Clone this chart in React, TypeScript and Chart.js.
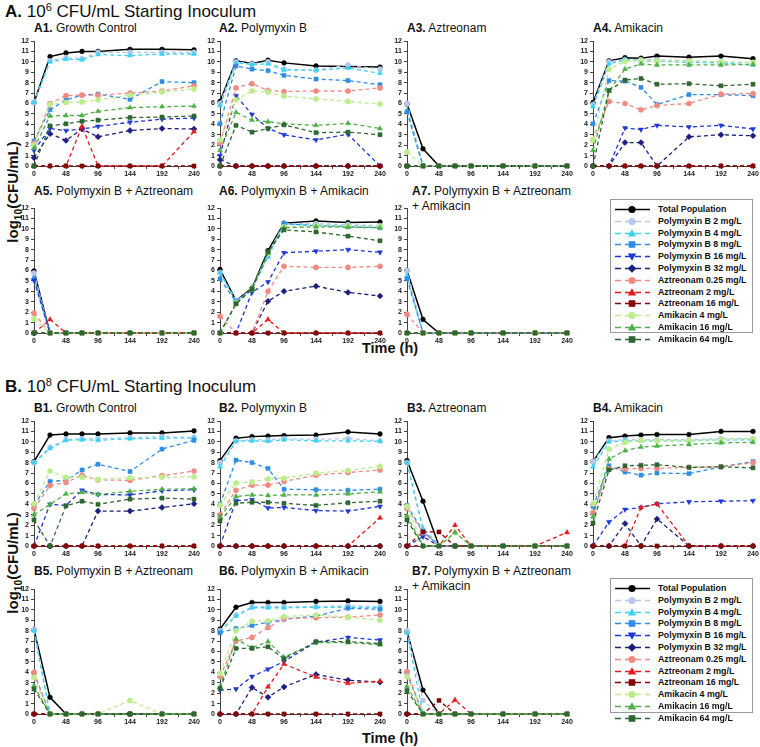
import React, { useEffect, useRef } from 'react';
import { Chart, registerables } from 'chart.js';

Chart.register(...registerables);

// ---------- DATA ----------
const timePoints = [0, 24, 48, 72, 96, 144, 192, 240];
const xTickLabels = ['0', '48', '96', '144', '192', '240'];
const yTickValues = [0, 1, 2, 3, 4, 5, 6, 7, 8, 9, 10, 11, 12];

const seriesNames = [
  'Total Population',
  'Polymyxin B 2 mg/L',
  'Polymyxin B 4 mg/L',
  'Polymyxin B 8 mg/L',
  'Polymyxin B 16 mg/L',
  'Polymyxin B 32 mg/L',
  'Aztreonam 0.25 mg/L',
  'Aztreonam 2 mg/L',
  'Aztreonam 16 mg/L',
  'Amikacin 4 mg/L',
  'Amikacin 16 mg/L',
  'Amikacin 64 mg/L',
];

const Z = [0, 0, 0, 0, 0, 0, 0, 0];

// order of rows in each panel: Total, PB2, PB4, PB8, PB16, PB32, AZ0.25, AZ2, AZ16, AM4, AM16, AM64
const A1 = [
  [6.1, 10.5, 10.85, 11.0, 11.0, 11.2, 11.2, 11.15],
  [6.1, 10.1, 10.4, 10.3, 10.9, 10.9, 10.9, 10.9],
  [6.1, 10.0, 10.25, 10.2, 10.7, 10.6, 10.75, 10.75],
  [2.4, 5.4, 6.35, 6.8, 6.9, 6.4, 8.1, 8.0],
  [1.5, 3.6, 3.4, 3.55, 3.8, 4.2, 4.5, 4.6],
  [0.8, 3.1, 2.45, 3.55, 2.8, 3.4, 3.6, 3.55],
  [2.2, 6.0, 6.75, 6.8, 6.8, 7.0, 7.2, 7.7],
  [0, 0, 0, 3.8, 0, 0, 0, 3.3],
  Z,
  [2.0, 5.9, 6.1, 6.15, 6.35, 6.8, 7.1, 7.4],
  [1.7, 4.8, 4.85, 4.85, 5.25, 5.6, 5.7, 5.75],
  [0, 3.85, 4.05, 4.3, 4.4, 4.65, 4.7, 4.8],
];
const A2 = [
  [6.2, 10.1, 9.85, 10.15, 9.9, 9.6, 9.55, 9.5],
  [6.0, 10.0, 9.8, 10.0, 9.3, 9.2, 9.7, 9.3],
  [5.8, 9.9, 9.75, 9.8, 9.2, 9.2, 9.4, 8.9],
  [4.05, 9.6, 9.3, 9.15, 8.7, 8.35, 8.2, 7.8],
  [1.0, 6.75, 4.95, 3.6, 3.0, 2.5, 3.05, 0],
  [0.6, 0, 0, 0, 0, 0, 0, 0],
  [2.2, 7.5, 7.9, 7.25, 7.15, 7.2, 7.2, 7.5],
  Z,
  Z,
  [2.5, 6.35, 7.2, 7.1, 6.7, 6.45, 6.2, 5.95],
  [1.5, 5.15, 4.4, 4.25, 4.05, 3.9, 4.1, 3.6],
  [0, 3.9, 3.25, 3.6, 3.95, 3.2, 3.25, 3.0],
];
const A3 = [
  [5.95, 1.65, 0, 0, 0, 0, 0, 0],
  [6.0, 0, 0, 0, 0, 0, 0, 0],
  [5.3, 0, 0, 0, 0, 0, 0, 0],
  [5.2, 0, 0, 0, 0, 0, 0, 0],
  Z,
  Z,
  Z,
  Z,
  Z,
  [1.35, 0, 0, 0, 0, 0, 0, 0],
  Z,
  Z,
];
const A4 = [
  [6.1, 10.1, 10.4, 10.35, 10.55, 10.45, 10.55, 10.3],
  [5.9, 10.0, 10.2, 10.2, 10.2, 10.1, 10.0, 9.9],
  [5.7, 9.8, 10.2, 10.1, 10.05, 9.95, 9.9, 9.7],
  [4.05, 8.2, 8.15, 7.55, 5.9, 6.85, 6.85, 6.75],
  [0, 0, 3.65, 3.5, 3.9, 3.75, 3.9, 3.55],
  [0, 0, 2.25, 2.25, 0, 2.8, 3.0, 2.9],
  [2.5, 6.2, 6.0, 5.4, 5.8, 6.0, 6.9, 6.95],
  Z,
  Z,
  [2.5, 9.3, 10.05, 10.15, 10.1, 10.05, 10.0, 9.95],
  [1.5, 7.2, 9.3, 9.8, 9.7, 9.7, 9.7, 9.75],
  [0, 7.25, 8.25, 8.4, 7.85, 7.9, 7.7, 7.85],
];
const A5 = [
  [5.95, 0, 0, 0, 0, 0, 0, 0],
  [5.75, 0, 0, 0, 0, 0, 0, 0],
  [5.3, 0, 0, 0, 0, 0, 0, 0],
  [5.2, 0, 0, 0, 0, 0, 0, 0],
  [5.05, 0, 0, 0, 0, 0, 0, 0],
  Z,
  [1.9, 0, 0, 0, 0, 0, 0, 0],
  [0, 1.3, 0, 0, 0, 0, 0, 0],
  Z,
  [1.35, 0, 0, 0, 0, 0, 0, 0],
  Z,
  Z,
];
const A6 = [
  [6.1, 3.1, 4.3, 7.9, 10.55, 10.75, 10.6, 10.65],
  [5.8, 3.1, 4.2, 7.6, 10.5, 10.5, 10.4, 10.3],
  [5.8, 3.0, 4.2, 7.3, 10.45, 10.35, 10.3, 10.2],
  [5.2, 3.0, 4.2, 7.5, 10.5, 10.3, 10.2, 10.1],
  [0, 0, 3.9, 4.9, 7.7, 7.85, 8.0, 7.75],
  [0, 0, 0, 3.05, 4.0, 4.5, 3.9, 3.55],
  [1.6, 0, 0, 4.0, 6.4, 6.3, 6.3, 6.4],
  [0, 0, 0, 1.3, 0, 0, 0, 0],
  Z,
  [0, 2.9, 4.2, 7.6, 10.2, 10.3, 10.25, 10.2],
  [0, 2.8, 4.3, 7.7, 10.1, 10.2, 10.15, 10.1],
  [0, 2.8, 4.2, 7.8, 9.9, 9.7, 9.3, 8.85],
];
const A7 = [
  [6.0, 1.3, 0, 0, 0, 0, 0, 0],
  [6.0, 0, 0, 0, 0, 0, 0, 0],
  [5.5, 0, 0, 0, 0, 0, 0, 0],
  [5.2, 0, 0, 0, 0, 0, 0, 0],
  Z,
  Z,
  [1.8, 0, 0, 0, 0, 0, 0, 0],
  Z,
  Z,
  Z,
  Z,
  Z,
];
const B1 = [
  [8.1, 10.65, 10.75, 10.75, 10.75, 10.85, 10.85, 11.05],
  [8.0, 9.5, 10.2, 10.3, 10.3, 10.4, 10.5, 10.4],
  [8.0, 9.35, 10.15, 10.2, 10.15, 10.3, 10.35, 10.35],
  [3.9, 6.2, 6.3, 7.3, 7.85, 7.15, 9.3, 10.15],
  [0, 4.0, 3.9, 5.35, 4.95, 4.9, 5.3, 5.4],
  [0, 0, 0, 0, 3.35, 3.35, 3.7, 4.05],
  [3.6, 5.8, 6.1, 6.8, 6.35, 6.3, 6.75, 7.2],
  Z,
  Z,
  [4.05, 7.2, 6.6, 6.6, 6.4, 6.55, 6.6, 6.65],
  [3.0, 4.0, 5.0, 5.15, 4.95, 5.25, 5.45, 5.5],
  [2.5, 0, 3.85, 4.3, 4.0, 4.5, 4.6, 4.5],
];
const B2 = [
  [8.2, 10.35, 10.5, 10.55, 10.6, 10.65, 10.95, 10.75],
  [8.0, 10.1, 10.2, 10.2, 10.3, 10.25, 10.3, 10.1],
  [7.6, 10.05, 10.1, 10.05, 10.2, 10.1, 10.1, 10.05],
  [4.0, 8.25, 8.0, 7.45, 5.45, 5.4, 5.35, 5.45],
  [0, 4.35, 4.45, 3.65, 3.7, 3.4, 3.35, 3.8],
  Z,
  [3.0, 5.35, 5.85, 5.85, 6.2, 6.8, 7.05, 7.3],
  [0, 0, 0, 0, 0, 0, 0, 2.7],
  Z,
  [3.9, 6.05, 6.15, 6.45, 6.5, 7.0, 7.25, 7.65],
  [2.8, 4.75, 4.9, 4.85, 4.9, 4.9, 5.0, 5.2],
  [2.4, 4.1, 4.2, 4.2, 4.1, 3.9, 4.15, 4.3],
];
const B3 = [
  [8.2, 4.3, 0, 0, 0, 0, 0, 0],
  [8.0, 1.5, 0, 0, 0, 0, 0, 0],
  [8.0, 1.7, 0, 0, 0, 0, 0, 0],
  [3.9, 1.4, 0, 0, 0, 0, 0, 0],
  [0, 0.9, 0, 0, 0, 0, 0, 0],
  Z,
  [3.6, 1.3, 0, 0, 0, 0, 0, 0],
  [0, 0, 0, 2.0, 0, 0, 0, 1.3],
  [0, 1.35, 1.35, 0, 0, 0, 0, 0],
  [3.8, 0, 0, 1.3, 0, 0, 0, 0],
  [2.9, 0, 0, 1.3, 0, 0, 0, 0],
  [2.5, 0, 0, 0, 0, 0, 0, 0],
];
const B4 = [
  [8.1, 10.4, 10.55, 10.65, 10.7, 10.7, 11.0, 11.0],
  [8.1, 10.1, 10.2, 10.2, 10.2, 10.2, 10.3, 10.3],
  [7.6, 10.0, 10.1, 10.1, 10.1, 10.1, 10.2, 10.2],
  [3.8, 7.7, 7.1, 6.8, 7.0, 6.95, 7.6, 8.1],
  [0, 2.3, 3.5, 3.7, 4.05, 4.25, 4.3, 4.35],
  [0, 0, 2.15, 0, 2.6, 0, 0, 0],
  [3.2, 7.4, 7.4, 7.45, 7.45, 7.55, 7.6, 8.0],
  [0, 0, 0, 3.7, 4.05, 0, 0, 0],
  Z,
  [4.05, 9.3, 9.95, 10.15, 10.1, 10.15, 10.2, 10.3],
  [2.8, 8.35, 9.15, 9.5, 9.6, 9.75, 9.9, 9.95],
  [2.2, 7.3, 7.7, 7.75, 7.8, 7.55, 7.6, 7.5],
];
const B5 = [
  [8.1, 1.6, 0, 0, 0, 0, 0, 0],
  [8.1, 0, 0, 0, 0, 0, 0, 0],
  [8.0, 0, 0, 0, 0, 0, 0, 0],
  [3.9, 0, 0, 0, 0, 0, 0, 0],
  Z,
  Z,
  [4.0, 0, 0, 0, 0, 0, 0, 0],
  Z,
  Z,
  [3.5, 0, 0, 0, 0, 1.3, 0, 0],
  [2.7, 0, 0, 0, 0, 0, 0, 0],
  [2.4, 0, 0, 0, 0, 0, 0, 0],
];
const B6 = [
  [8.15, 10.25, 10.7, 10.7, 10.7, 10.8, 10.85, 10.8],
  [8.0, 9.5, 10.3, 10.3, 10.3, 10.3, 10.4, 10.3],
  [7.9, 9.4, 10.2, 10.2, 10.2, 10.25, 10.25, 10.2],
  [7.8, 8.2, 8.5, 8.8, 9.1, 9.4, 10.15, 10.05],
  [2.3, 2.4, 3.6, 4.3, 5.05, 6.9, 7.35, 7.1],
  [0, 0, 2.55, 1.6, 2.6, 3.8, 3.25, 3.05],
  [3.6, 7.0, 7.35, 8.3, 9.15, 9.25, 9.3, 9.5],
  [0, 0, 0, 2.6, 4.8, 3.55, 2.95, 3.15],
  Z,
  [3.9, 8.0, 8.9, 8.95, 9.35, 9.5, 9.3, 9.0],
  [2.6, 7.2, 6.35, 6.95, 5.45, 6.85, 6.85, 6.65],
  [2.45, 6.3, 6.3, 6.45, 5.3, 6.95, 6.95, 6.75],
];
const B7 = [
  [7.9, 2.3, 0, 0, 0, 0, 0, 0],
  [8.0, 1.3, 0, 0, 0, 0, 0, 0],
  [7.8, 0, 0, 0, 0, 0, 0, 0],
  [3.9, 0, 0, 0, 0, 0, 0, 0],
  Z,
  Z,
  [4.1, 0, 0, 0, 0, 0, 0, 0],
  [0, 0, 0, 1.35, 0, 0, 0, 0],
  [0, 0, 1.3, 0, 0, 0, 0, 0],
  [3.6, 0, 0, 0, 0, 0, 0, 0],
  [2.65, 0, 0, 0, 0, 0, 0, 0],
  [2.25, 0, 0, 0, 0, 0, 0, 0],
];

const panelIds = ['A1', 'A2', 'A3', 'A4', 'A5', 'A6', 'A7', 'B1', 'B2', 'B3', 'B4', 'B5', 'B6', 'B7'];
const panelTitles = [
  'Growth Control',
  'Polymyxin B',
  'Aztreonam',
  'Amikacin',
  'Polymyxin B + Aztreonam',
  'Polymyxin B + Amikacin',
  'Polymyxin B + Aztreonam|+ Amikacin',
  'Growth Control',
  'Polymyxin B',
  'Aztreonam',
  'Amikacin',
  'Polymyxin B + Aztreonam',
  'Polymyxin B + Amikacin',
  'Polymyxin B + Aztreonam|+ Amikacin',
];
const panelData = [A1, A2, A3, A4, A5, A6, A7, B1, B2, B3, B4, B5, B6, B7];

// ---------- STYLES / LAYOUT ----------
const FONT = '"Liberation Sans", Arial, Helvetica, sans-serif';
const colors = [
  '#000000', '#b7c8ea', '#3cd2f2', '#2f8de4', '#1f36d6', '#1c1f7c',
  '#f28a84', '#e8191c', '#800a0a', '#bdec8c', '#4eae47', '#2f6632',
];
const pointStyles = ['circle', 'circle', 'triangle', 'rect', 'triangle', 'rectRot', 'circle', 'triangle', 'rect', 'circle', 'triangle', 'rect'];
const pointRotations = [0, 0, 0, 0, 180, 0, 0, 0, 0, 0, 0, 0];
const pointRadii = [2.4, 2.6, 2.9, 2.9, 2.9, 3.0, 2.6, 2.9, 2.9, 2.6, 2.9, 2.9];

const colLeft = [34, 220, 407, 593];
const rowTop = [41, 208, 421, 589];
const PLOT_W = 160;
const PLOT_H = 125;
const Y_AXIS_W = 22;
const X_AXIS_H = 16;
const PAD_T = 7;
const PAD_R = 12;
const panelPos = [
  [0, 0], [1, 0], [2, 0], [3, 0], [0, 1], [1, 1], [2, 1],
  [0, 2], [1, 2], [2, 2], [3, 2], [0, 3], [1, 3], [2, 3],
];

function Panel({ data, left, top }: { data: number[][]; left: number; top: number }) {
  const ref = useRef<HTMLCanvasElement>(null);
  const w = Y_AXIS_W + PLOT_W + PAD_R;
  const h = PAD_T + PLOT_H + X_AXIS_H;
  useEffect(() => {
    const canvas = ref.current;
    if (!canvas) return;
    const tickFont = { family: FONT, size: 7, weight: 'bold' as const };
    const chart = new Chart(canvas, {
      type: 'line',
      data: {
        datasets: data.map((vals, i) => ({
          label: seriesNames[i],
          data: vals.map((v, j) => ({ x: timePoints[j], y: v })),
          borderColor: colors[i],
          backgroundColor: colors[i],
          pointBackgroundColor: colors[i],
          pointBorderColor: colors[i],
          pointBorderWidth: 0.5,
          borderWidth: i === 0 ? 1.5 : 1.3,
          borderDash: i === 0 ? [] : [4, 3],
          pointStyle: pointStyles[i] as any,
          pointRotation: pointRotations[i],
          pointRadius: pointRadii[i],
          tension: 0,
          clip: false as any,
          order: 12 - i,
        })),
      },
      options: {
        animation: false,
        responsive: false,
        maintainAspectRatio: false,
        events: [],
        layout: { padding: { left: 0, right: PAD_R, top: PAD_T, bottom: 0 } },
        plugins: { legend: { display: false }, tooltip: { enabled: false } },
        scales: {
          x: {
            type: 'linear',
            min: 0,
            max: 240,
            afterFit: (s: any) => { s.height = X_AXIS_H; },
            ticks: {
              stepSize: 24,
              autoSkip: false,
              maxRotation: 0,
              padding: 1,
              color: '#222',
              font: tickFont,
              callback: (v: any) => (xTickLabels.includes(String(v)) ? String(v) : ''),
            },
            grid: { drawOnChartArea: false, drawTicks: true, tickLength: 3, color: '#444', lineWidth: 1 },
            border: { display: true, color: '#444', width: 1 },
          },
          y: {
            type: 'linear',
            min: yTickValues[0],
            max: yTickValues[yTickValues.length - 1],
            afterFit: (s: any) => { s.width = Y_AXIS_W; },
            ticks: {
              stepSize: 1,
              autoSkip: false,
              padding: 2,
              color: '#222',
              font: tickFont,
            },
            grid: { drawOnChartArea: false, drawTicks: true, tickLength: 3, color: '#444', lineWidth: 1 },
            border: { display: true, color: '#444', width: 1 },
          },
        },
      },
    });
    return () => chart.destroy();
  }, [data]);
  return (
    <canvas
      ref={ref}
      width={w}
      height={h}
      style={{ position: 'absolute', left: left - Y_AXIS_W, top: top - PAD_T, width: w, height: h }}
    />
  );
}

function Marker({ style, color, cx, cy }: { style: number; color: string; cx: number; cy: number }) {
  const ps = pointStyles[style];
  const rot = pointRotations[style];
  if (ps === 'circle') return <circle cx={cx} cy={cy} r={3.6} fill={color} />;
  if (ps === 'rect') return <rect x={cx - 3.3} y={cy - 3.3} width={6.6} height={6.6} fill={color} />;
  if (ps === 'rectRot')
    return <polygon points={`${cx},${cy - 4.3} ${cx + 4.3},${cy} ${cx},${cy + 4.3} ${cx - 4.3},${cy}`} fill={color} />;
  const s = rot === 180 ? -1 : 1;
  return (
    <polygon
      points={`${cx},${cy - 4.2 * s} ${cx + 4.2},${cy + 3 * s} ${cx - 4.2},${cy + 3 * s}`}
      fill={color}
    />
  );
}

function Legend({ left, top, width, height, rowGap }: { left: number; top: number; width: number; height: number; rowGap: number }) {
  return (
    <div
      style={{
        position: 'absolute',
        left,
        top,
        width,
        height,
        border: '1px solid #9a9a9a',
        boxSizing: 'border-box',
        background: '#fff',
      }}
    >
      {seriesNames.map((name, i) => (
        <div
          key={name}
          style={{
            position: 'absolute',
            left: 3,
            top: 4 + i * rowGap,
            height: 11,
            display: 'flex',
            alignItems: 'center',
            whiteSpace: 'nowrap',
          }}
        >
          <svg width={44} height={11} style={{ display: 'block' }}>
            <line
              x1={1}
              x2={36}
              y1={5.5}
              y2={5.5}
              stroke={colors[i]}
              strokeWidth={1.5}
              strokeDasharray={i === 0 ? undefined : '6 4'}
            />
            <Marker style={i} color={colors[i]} cx={18} cy={5.5} />
          </svg>
          <span style={{ fontFamily: FONT, fontWeight: 'bold', fontSize: 8.8, color: '#111', lineHeight: '11px' }}>
            {name}
          </span>
        </div>
      ))}
    </div>
  );
}

function Title({ id, text, left, top }: { id: string; text: string; left: number; top: number }) {
  const lines = text.split('|');
  return (
    <div
      style={{
        position: 'absolute',
        left,
        top,
        fontFamily: FONT,
        fontSize: 12,
        lineHeight: '15px',
        color: '#111',
        whiteSpace: 'nowrap',
      }}
    >
      <b>{id}.</b> {lines[0]}
      {lines.slice(1).map((l) => (
        <div key={l}>{l}</div>
      ))}
    </div>
  );
}

export default function App() {
  const titleLeft = [34, 219, 407, 593];
  const titleTop = [21, 184, 401, 564];
  const secStyle: React.CSSProperties = {
    position: 'absolute',
    left: 5,
    fontSize: 17,
    lineHeight: '20px',
    whiteSpace: 'nowrap',
    color: '#111',
  };
  const supStyle: React.CSSProperties = { fontSize: '0.65em', verticalAlign: '0.55em', lineHeight: 0 };
  return (
    <div style={{ position: 'absolute', left: 0, top: 0, width: 760, height: 747, background: '#fff', overflow: 'hidden', fontFamily: FONT }}>
      <div style={{ ...secStyle, top: 2 }}>
        <b>A.</b> 10<sup style={supStyle}>6</sup> CFU/mL Starting Inoculum
      </div>
      <div style={{ ...secStyle, top: 377 }}>
        <b>B.</b> 10<sup style={supStyle}>8</sup> CFU/mL Starting Inoculum
      </div>

      {[192, 563].map((cy) => (
        <div
          key={cy}
          style={{
            position: 'absolute',
            left: 12,
            top: cy,
            transform: 'translate(-50%, -50%) rotate(-90deg)',
            fontWeight: 'bold',
            fontSize: 15,
            whiteSpace: 'nowrap',
            color: '#111',
          }}
        >
          log<sub style={{ fontSize: '0.68em', lineHeight: 0 }}>10</sub>(CFU/mL)
        </div>
      ))}

      {[348, 738].map((cy) => (
        <div
          key={cy}
          style={{
            position: 'absolute',
            left: 390,
            top: cy,
            transform: 'translate(-50%, -50%)',
            fontWeight: 'bold',
            fontSize: 14.5,
            whiteSpace: 'nowrap',
            color: '#111',
          }}
        >
          Time (h)
        </div>
      ))}

      {panelIds.map((id, k) => {
        const [c, r] = panelPos[k];
        const tl = k === 6 || k === 13 ? 412 : titleLeft[c];
        return <Title key={'t' + id} id={id} text={panelTitles[k]} left={tl} top={titleTop[r]} />;
      })}

      {panelIds.map((id, k) => {
        const [c, r] = panelPos[k];
        return <Panel key={id} data={panelData[k]} left={colLeft[c]} top={rowTop[r]} />;
      })}

      <Legend left={610} top={199} width={143} height={134} rowGap={11.8} />
      <Legend left={610} top={578} width={143} height={135} rowGap={11.8} />
    </div>
  );
}
